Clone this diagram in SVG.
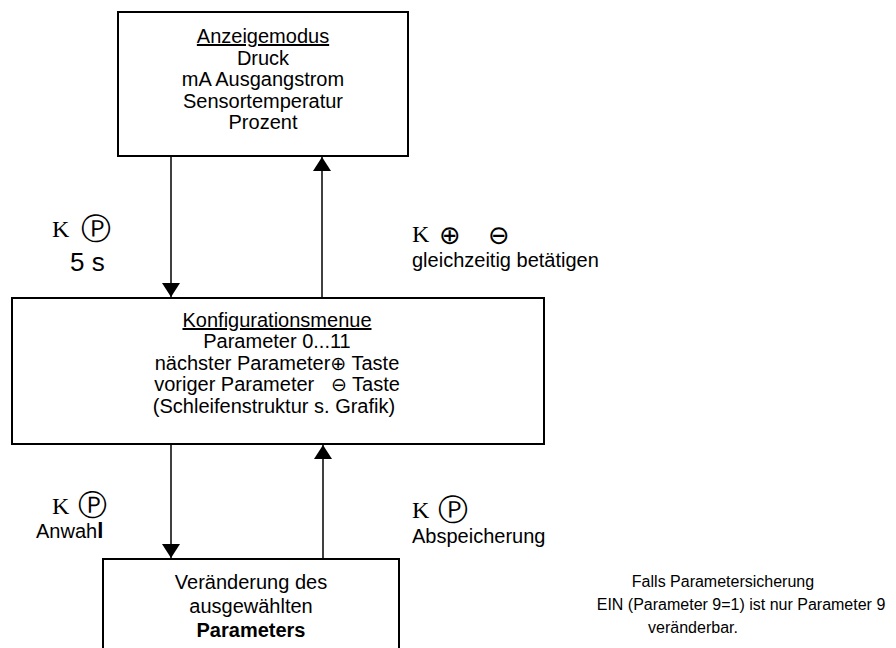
<svg xmlns="http://www.w3.org/2000/svg" width="896" height="648" viewBox="0 0 896 648">
<style>
.box{fill:#fff;stroke:#000;stroke-width:2}
.t{font-family:"Liberation Sans",Arial,sans-serif;font-size:20px;fill:#000;text-anchor:middle}
.l{font-family:"Liberation Sans",Arial,sans-serif;font-size:20px;fill:#000}
.n{font-family:"Liberation Sans",Arial,sans-serif;font-size:16px;fill:#000;text-anchor:middle}
.k{font-family:"Liberation Serif","Times New Roman",serif;font-size:24px;fill:#000}
.sym{font-family:"DejaVu Sans",sans-serif}
.c{stroke:#000;stroke-width:1.5;fill:none}
</style>
<defs>
<marker id="ah" viewBox="0 0 14 18" refX="14" refY="9" markerWidth="14" markerHeight="18" markerUnits="userSpaceOnUse" orient="auto">
<path d="M0,0 L14,9 L0,18 Z" fill="#000"/>
</marker>
</defs>
<g id="connectors">
<line class="c" x1="171" y1="156" x2="171" y2="297" marker-end="url(#ah)"/>
<line class="c" x1="322" y1="298" x2="322" y2="157" marker-end="url(#ah)"/>
<line class="c" x1="171" y1="444" x2="171" y2="558" marker-end="url(#ah)"/>
<line class="c" x1="323" y1="559" x2="323" y2="445" marker-end="url(#ah)"/>
</g>
<g id="anzeigemodus">
<rect class="box" x="118" y="12" width="290" height="144"/>
<text class="t" x="263" y="43" text-decoration="underline">Anzeigemodus</text>
<text class="t" x="263" y="65">Druck</text>
<text class="t" x="263" y="86">mA Ausgangstrom</text>
<text class="t" x="263" y="108">Sensortemperatur</text>
<text class="t" x="263" y="129">Prozent</text>
</g>
<g id="konfigurationsmenue">
<rect class="box" x="12" y="298" width="532" height="146"/>
<text class="t" x="277" y="327" text-decoration="underline">Konfigurationsmenue</text>
<text class="t" x="277" y="348">Parameter 0...11</text>
<text class="t" x="277" y="370">nächster Parameter<tspan class="sym" style="font-size:19px">⊕</tspan> Taste</text>
<text class="t" x="277" y="391" xml:space="preserve">voriger Parameter   <tspan class="sym" style="font-size:19px">⊖</tspan> Taste</text>
<text class="t" x="274" y="413">(Schleifenstruktur s. Grafik)</text>
</g>
<g id="veraenderung">
<rect class="box" x="103" y="559" width="296" height="100"/>
<text class="t" x="251" y="589">Veränderung des</text>
<text class="t" x="251" y="613">ausgewählten</text>
<text class="t" x="251" y="637" font-weight="bold">Parameters</text>
</g>
<g id="label-k-p-5s">
<text class="k" x="52" y="237">K</text>
<text class="sym" x="81" y="239" style="font-size:30px">Ⓟ</text>
<text class="l" x="70" y="271" style="font-size:26px">5 s</text>
</g>
<g id="label-k-plus-minus">
<text class="k" x="412" y="242">K</text>
<text class="sym" x="439" y="244" style="font-size:26px">⊕</text>
<text class="sym" x="488" y="244" style="font-size:26px">⊖</text>
<text class="l" x="412" y="267">gleichzeitig betätigen</text>
</g>
<g id="label-anwahl">
<text class="k" x="52" y="514">K</text>
<text class="sym" x="78" y="515" style="font-size:29px">Ⓟ</text>
<text class="l" x="36" y="538">Anwah<tspan style="font-weight:bold;font-size:22px">l</tspan></text>
</g>
<g id="label-abspeicherung">
<text class="k" x="412" y="518">K</text>
<text class="sym" x="438" y="520" style="font-size:30px">Ⓟ</text>
<text class="l" x="412" y="543">Abspeicherung</text>
</g>
<g id="note">
<text class="n" x="723" y="587">Falls Parametersicherung</text>
<text class="n" x="741" y="610">EIN (Parameter 9=1) ist nur Parameter 9</text>
<text class="n" x="693" y="633">veränderbar.</text>
</g>
</svg>
